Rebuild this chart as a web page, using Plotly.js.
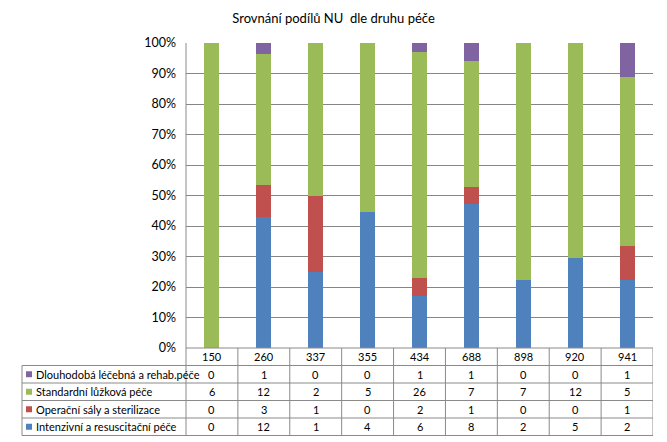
<!DOCTYPE html>
<html><head><meta charset="utf-8">
<script src="https://cdn.plot.ly/plotly-3.0.1.min.js"></script>
<style>html,body{margin:0;padding:0;background:#fff}</style>
</head><body><div id="chart" style="width:667px;height:442px"></div>
<script>
const categories = ["150","260","337","355","434","688","898","920","941"];
const seriesNames = ["Dlouhodobá léčebná a rehab.péče","Standardní lůžková péče","Operační sály a sterilizace","Intenzivní a resuscitační péče"];
const dlouhodoba = [0,1,0,0,1,1,0,0,1];
const standardni = [6,12,2,5,26,7,7,12,5];
const operacni = [0,3,1,0,2,1,0,0,1];
const intenzivni = [0,12,1,4,6,8,2,5,2];
const colors = ["#8064A2","#9BBB59","#C0504D","#4F81BD"];
const tableRows = [dlouhodoba, standardni, operacni, intenzivni];

const xs = categories.map((c,i)=>i);
// stack from bottom: intenzivni, operacni, standardni, dlouhodoba
const traces = [3,2,1,0].map(k => ({
  type:'bar', x: xs, y: tableRows[k], name: seriesNames[k],
  marker:{color: colors[k]}, width: 0.29, hoverinfo:'skip'
}));

const L=186, R=653, T=43, B=348, W=667, H=442;
const pw = R-L, ph = B-T;
const px2x = p => (p-L)/pw;
const py2y = p => (B-p)/ph;
const rowEdges = [348, 365.5, 383, 400.5, 418, 435.5];
const tableLeft = 22;
const lineColor = '#8a8a8a';
const fnt = 'Lato, "Open Sans", "Liberation Sans", sans-serif';

const shapes = [];
const annotations = [];
shapes.push({type:'line', xref:'paper', yref:'paper', x0:0, x1:0, y0:1, y1:py2y(rowEdges[5]), line:{color:lineColor, width:1}});
rowEdges.forEach((r,i) => {
  shapes.push({type:'line', xref:'paper', yref:'paper', x0: i===0 ? 0 : px2x(tableLeft), x1:1, y0:py2y(r), y1:py2y(r), line:{color:lineColor,width:1}});
});
shapes.push({type:'line', xref:'paper', yref:'paper', x0:px2x(tableLeft), x1:px2x(tableLeft), y0:py2y(rowEdges[1]), y1:py2y(rowEdges[5]), line:{color:lineColor,width:1}});
for (let i=0;i<categories.length;i++){
  shapes.push({type:'line', xref:'x', yref:'paper', x0:i+0.5, x1:i+0.5, y0:py2y(rowEdges[0]), y1:py2y(rowEdges[5]), line:{color:lineColor,width:1}});
}
categories.forEach((c,i)=>{
  annotations.push({xref:'x', yref:'paper', x:i, y:py2y((rowEdges[0]+rowEdges[1])/2), text:c, showarrow:false, font:{size:11,color:'#000'}, xanchor:'center', yanchor:'middle'});
});
tableRows.forEach((row,k)=>{
  const yc = py2y((rowEdges[k+1]+rowEdges[k+2])/2);
  shapes.push({type:'rect', xref:'paper', yref:'paper', x0:px2x(26), x1:px2x(32), y0:yc-3/ph, y1:yc+3/ph, fillcolor:colors[k], line:{width:0}});
  annotations.push({xref:'paper', yref:'paper', x:px2x(34), y:yc, text:seriesNames[k], showarrow:false, font:{size:11,color:'#000'}, xanchor:'left', yanchor:'middle'});
  row.forEach((v,i)=>{
    annotations.push({xref:'x', yref:'paper', x:i, y:yc, text:String(v), showarrow:false, font:{size:11,color:'#000'}, xanchor:'center', yanchor:'middle'});
  });
});

const layout = {
  width:W, height:H,
  margin:{l:L, r:W-R, t:T, b:H-B, pad:0},
  paper_bgcolor:'#fff', plot_bgcolor:'#fff',
  font:{family:fnt, size:11, color:'#000'},
  title:{text:'Srovnání podílů NU  dle druhu péče', x:0.5, xref:'container', xanchor:'center', y:1-18/H, yref:'container', yanchor:'middle', font:{size:13,color:'#000'}},
  barmode:'stack', barnorm:'percent',
  showlegend:false,
  xaxis:{range:[-0.5,8.5], showticklabels:false, showgrid:false, zeroline:false, showline:false, fixedrange:true},
  yaxis:{range:[0,100], dtick:10, ticksuffix:'%', showgrid:true, gridcolor:'#868686', gridwidth:1, zeroline:false, showline:false, ticks:'', ticklabelstandoff:9, tickfont:{size:12.5,color:'#000'}},
  shapes, annotations
};
Plotly.newPlot('chart', traces, layout, {staticPlot:true, displayModeBar:false});
</script></body></html>
